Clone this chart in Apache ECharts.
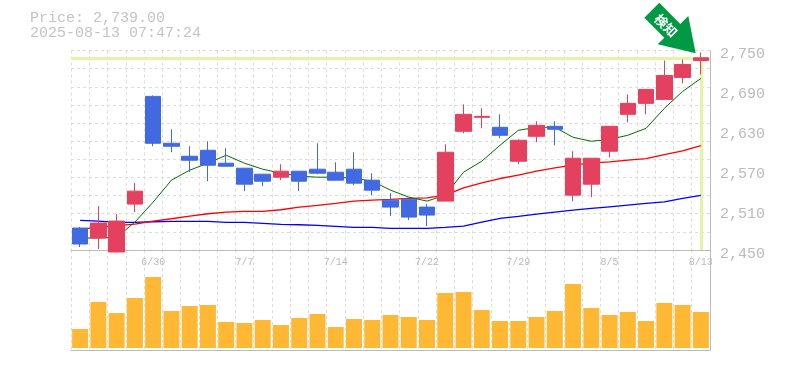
<!DOCTYPE html>
<html>
<head>
<meta charset="utf-8">
<style>html,body{margin:0;padding:0;background:#fff}#c{width:785px;height:370px}</style>
<script src="https://cdn.jsdelivr.net/npm/echarts@6/dist/echarts.min.js"></script>
</head>
<body>
<div id="c"></div>
<script>
const categories = ['6/24','6/25','6/26','6/27','6/30','7/1','7/2','7/3','7/4','7/7','7/8','7/9','7/10','7/11','7/14','7/15','7/16','7/17','7/18','7/22','7/23','7/24','7/25','7/28','7/29','7/30','7/31','8/1','8/4','8/5','8/6','8/7','8/8','8/12','8/13'];
const xTickLabels = ['6/30','7/7','7/14','7/22','7/29','8/5','8/13'];
const yTickLabels = [2450,2510,2570,2630,2690,2750];
const opens  = [2483,2468,2447,2519,2681,2610.5,2591,2600,2580.5,2573,2564,2559.5,2568.5,2571.5,2567,2571.5,2555,2525,2526.5,2514.5,2523.5,2628.5,2649.5,2634.5,2583.5,2621,2636,2532.5,2549,2598.5,2654,2670.5,2676.5,2709.5,2735];
const closes = [2459,2490.5,2493.5,2538.5,2610.5,2606,2585,2577.5,2576,2549,2553.5,2568.5,2553.5,2565.5,2555,2550.5,2540,2514.5,2499.5,2502.5,2597,2654,2651,2622.5,2615,2637.5,2631.5,2588,2588,2636,2670.5,2691.5,2712.5,2729,2739];
const lows   = [2454.5,2451.5,2447,2507,2606,2597,2567,2553.5,2576,2538.5,2546,2555,2538.5,2564,2555,2547.5,2532.5,2501,2495,2486,2523.5,2625.5,2633,2618,2579,2612,2607.5,2523.5,2529.5,2589.5,2642,2654,2676.5,2700.5,2714];
const highs  = [2484.5,2516,2504,2550.5,2682.5,2631.5,2606,2613.5,2603,2573,2564,2579,2568.5,2610.5,2582,2597,2565.5,2535.5,2526.5,2519,2609,2669,2663,2654,2616.5,2643.5,2643.5,2598.5,2588,2636,2684,2691.5,2735,2736.5,2747];
const maShort = [2468,2468,2469,2492,2522,2555,2570,2580.5,2592.5,2580.5,2571.5,2565.5,2561,2559.5,2559.5,2558,2553.5,2540,2529.5,2523.5,2532.5,2567,2583.5,2607.5,2630,2634.5,2634.5,2619.5,2613.5,2616.5,2622.5,2633,2663,2688.5,2708];
const maMid   = [2481.5,2484,2486.5,2489,2493.5,2497,2501,2504.5,2507,2508,2508,2510.5,2514.5,2517,2520,2523.5,2525,2526,2527.5,2528.5,2532.5,2543.5,2551,2557.5,2562.5,2568.5,2573.5,2577.5,2581,2582.5,2585,2587.5,2593.5,2599,2607];
const maLong  = [2494.5,2493.5,2491.5,2491.5,2492.5,2493,2493,2493,2491.5,2491.5,2490,2488.5,2488,2487,2485.5,2484,2484,2482.5,2482.5,2482.5,2484,2486,2492,2497.5,2500.5,2504,2507,2510,2512.5,2515,2517.5,2520,2522.5,2527.5,2532];
const volumes = [19,46,35,50,71,37,42,43,26,25,28,23,30,34,21,29,28,33,31,28,55,56,38,27,27,31,37,64,40,33,36,27,45,43,36];
const lastPrice = 2739;
const priceText = 'Price: 2,739.00';
const timeText = '2025-08-13 07:47:24';
const arrowText = '検知';

const UP = '#e4415f', DOWN = '#4169e1', GRAY = '#bbbbbb', GRID = '#dddddd', MONO = '"Liberation Mono", monospace';
const gridValues = Array.from({length: 12}, (_, i) => 2450 + i * 300 / 11);
const candleData = categories.map((_, i) => [opens[i], closes[i], lows[i], highs[i]]);
const dashed = {show: true, lineStyle: {color: GRID, width: 1, type: [3, 3]}};
const line = (data, color, width) => ({
  type: 'line', data, symbol: 'none', smooth: false, z: 3, silent: true,
  lineStyle: {color, width}, itemStyle: {color}
});

const chart = echarts.init(document.getElementById('c'), null, {renderer: 'canvas'});
chart.setOption({
  animation: false,
  backgroundColor: '#fff',
  grid: [
    {left: 71, width: 639, top: 50.5, height: 199.5, show: false},
    {left: 71, width: 639, top: 250, height: 100, show: false}
  ],
  xAxis: [
    {type: 'category', gridIndex: 0, data: categories, boundaryGap: true,
     axisLine: {show: true, onZero: false, lineStyle: {color: GRAY, width: 1}}, axisTick: {show: false},
     splitLine: {...dashed, interval: 0},
     axisLabel: {interval: 0, margin: 7, color: GRAY, fontFamily: MONO, fontSize: 10,
       formatter: v => xTickLabels.includes(v) ? v : ''}},
    {type: 'category', gridIndex: 1, data: categories, boundaryGap: true,
     axisLine: {show: true, onZero: false, lineStyle: {color: GRAY, width: 1}}, axisTick: {show: false},
     splitLine: {...dashed, interval: 0}, axisLabel: {show: false}}
  ],
  yAxis: [
    {type: 'value', gridIndex: 0, min: 2450, max: 2750, position: 'right', scale: true,
     axisLine: {show: true, onZero: false, lineStyle: {color: GRAY, width: 1}},
     axisTick: {show: false, customValues: gridValues},
     splitLine: dashed,
     axisLabel: {customValues: yTickLabels, margin: 10,
       formatter: v => '{t|' + v.toLocaleString('en-US') + '}',
       rich: {t: {color: GRAY, fontFamily: MONO, fontSize: 15, padding: [8, 0, 0, 0]}}}},
    {type: 'value', gridIndex: 1, min: -2, max: 98, position: 'right',
     axisLine: {show: true, onZero: false, lineStyle: {color: GRAY, width: 1}},
     axisTick: {show: false}, splitLine: {show: false}, axisLabel: {show: false}}
  ],
  series: [
    {type: 'line', data: [], xAxisIndex: 0, yAxisIndex: 0, silent: true,
     markLine: {silent: true, symbol: 'none', z: 1, label: {show: false},
       lineStyle: {color: '#e2f5a5', width: 3, type: 'solid'},
       data: [
         {yAxis: lastPrice},
         [{coord: ['8/13', lastPrice]}, {coord: ['8/13', 2450]}]
       ]}},
    line(maLong, '#0000ff', 1.3),
    line(maMid, '#ff0000', 1.3),
    line(maShort, '#006f00', 1),
    {type: 'candlestick', xAxisIndex: 0, yAxisIndex: 0, data: candleData, barWidth: 16, clip: false, z: 4,
     itemStyle: {color: UP, color0: DOWN, borderColor: UP, borderColor0: DOWN, borderWidth: 1}},
    {type: 'bar', xAxisIndex: 1, yAxisIndex: 1, data: volumes, barWidth: 16, itemStyle: {color: '#ffb833'}, silent: true}
  ],
  graphic: [
    {type: 'text', left: 30, top: 11, style: {text: priceText, fill: '#c4c4c4', font: '15px ' + MONO}},
    {type: 'text', left: 30, top: 26, style: {text: timeText, fill: '#c4c4c4', font: '15px ' + MONO}},
    {type: 'polygon', z: 10, shape: {points: [[659.3,2.7],[644.3,17.7],[664.3,37.7],[657.7,44.3],[695.7,53.3],[688.3,16],[680.3,24]]}, style: {fill: '#009a44'}},
    {type: 'text', z: 11, x: 666, y: 25.5, rotation: -Math.PI / 4,
     style: {text: arrowText, fill: '#fff', font: 'bold 13px "Noto Sans CJK JP"', align: 'center', verticalAlign: 'middle'}}
  ]
});
</script>
</body>
</html>
